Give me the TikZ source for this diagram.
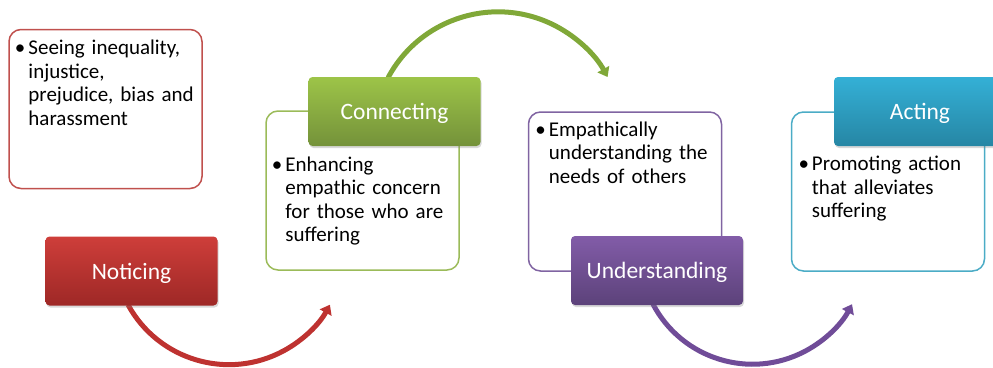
\documentclass[tikz,border=0pt]{standalone}
\usepackage{fontspec}
\setmainfont{Carlito}
\usetikzlibrary{arrows.meta,shadows,backgrounds}
% outline, label top, label bottom and arrow colours per stage
\definecolor{boxR}{RGB}{192,80,77}
\definecolor{topR}{RGB}{206,62,58}
\definecolor{botR}{RGB}{158,40,38}
\definecolor{arrR}{RGB}{190,50,48}
\definecolor{boxG}{RGB}{155,187,89}
\definecolor{topG}{RGB}{157,196,72}
\definecolor{botG}{RGB}{116,146,58}
\definecolor{arrG}{RGB}{128,168,56}
\definecolor{boxP}{RGB}{128,100,162}
\definecolor{topP}{RGB}{130,92,168}
\definecolor{botP}{RGB}{92,66,122}
\definecolor{arrP}{RGB}{112,76,152}
\definecolor{boxB}{RGB}{75,172,198}
\definecolor{topB}{RGB}{52,176,214}
\definecolor{botB}{RGB}{38,134,164}
\tikzset{
  notebox/.style    = {draw=#1, fill=white, line width=1.5pt,
                       rounded corners=12pt,
                       minimum width=193pt, minimum height=159pt},
  notetext/.style   = {anchor=north west, inner sep=0pt,
                       text width=185pt, align=left,
                       font=\fontsize{21}{23.5}\selectfont},
  stage/.style 2 args = {rectangle, rounded corners=4pt,
                       top color=#1, bottom color=#2, draw=none,
                       minimum width=172pt, minimum height=69pt,
                       text=white, text depth=0pt,
                       font=\fontsize{23.5}{28}\selectfont,
                       drop shadow={shadow xshift=1pt, shadow yshift=-2pt, opacity=.3}},
  flow/.style       = {draw=#1, line width=5pt,
                       -{Triangle[width=13pt,length=9pt]}}
}
\newcommand{\punkt}{\llap{\textbullet\hspace{3pt}}}

\begin{document}
\begin{tikzpicture}[x=1pt, y=-1pt]
  \clip (0,0) rectangle (993,367);
  % note boxes
  \node[notebox=boxR] (see)  at (105.5,109)   {};
  \node[notebox=boxG] (feel) at (362.5,190.5) {};
  \node[notebox=boxP] (need) at (625,191.5)   {};
  \node[notebox=boxB] (help) at (888,191.5)   {};
  % bullet texts
  \node[notetext] (seetxt)  at ([xshift=20pt,yshift=-11pt]see.north west)
    {\punkt Seeing inequality,\\ injustice,\\ prejudice, bias and\\ harassment};
  \node[notetext] (feeltxt) at ([xshift=20pt,yshift=-46pt]feel.north west)
    {\punkt Enhancing\\ empathic concern\\ for those who are\\ suffering};
  \node[notetext] (needtxt) at ([xshift=21pt,yshift=-10pt]need.north west)
    {\punkt Empathically\\ understanding the\\ needs of others};
  \node[notetext] (helptxt) at ([xshift=21pt,yshift=-45pt]help.north west)
    {\punkt Promoting action\\ that alleviates\\ suffering};
  % stage labels
  \node[stage={topR}{botR}] (notice) at (131.5,271)   {Noticing};
  \node[stage={topG}{botG}] (connect) at (394.5,111.5) {Connecting};
  \node[stage={topP}{botP}] (under)  at (657,270.5)   {Understanding};
  \node[stage={topB}{botB}] (act)    at (920,111.5)   {Acting};
  % curved arrows between the stages
  \begin{scope}[on background layer]
    \draw[flow=arrR] ([xshift=-3.5pt,yshift=1pt]notice.south)
      arc[start angle=151.4, end angle=28.6, radius=115];
    \draw[flow=arrG] ([xshift=-6.5pt,yshift=-1pt]connect.north)
      arc[start angle=208.1, end angle=331.5, radius=124.7];
    \draw[flow=arrP] ([xshift=-4pt,yshift=1pt]under.south)
      arc[start angle=152.2, end angle=27.8, radius=112.5];
  \end{scope}
\end{tikzpicture}
\end{document}
